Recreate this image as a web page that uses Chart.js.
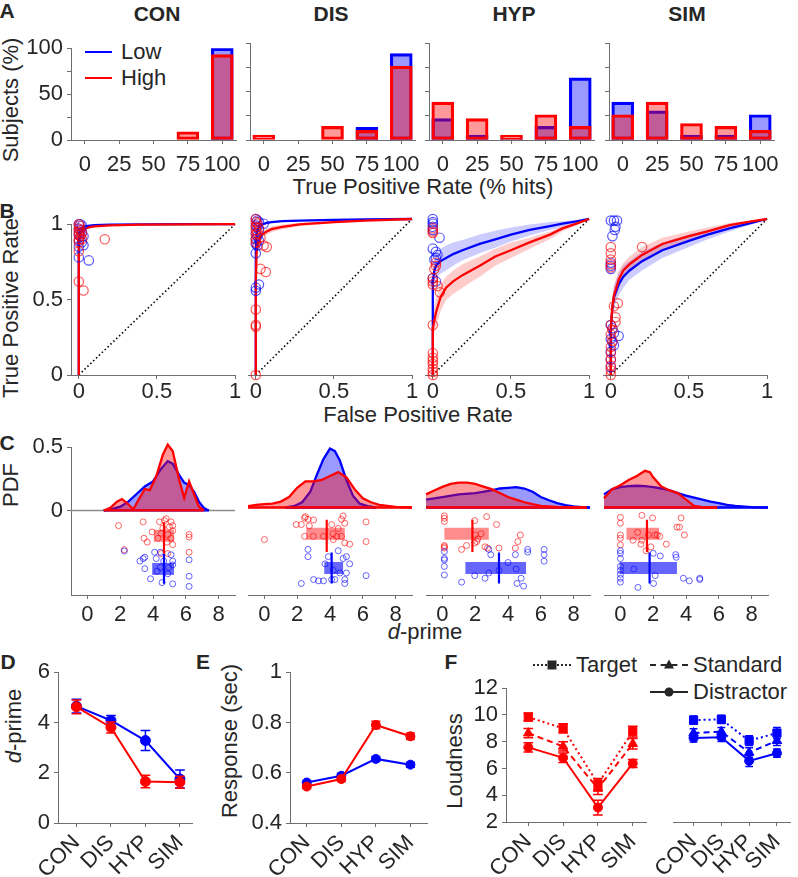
<!DOCTYPE html>
<html lang="en">
<head>
<meta charset="UTF-8">
<title>Detection performance</title>
<script src="https://cdn.jsdelivr.net/npm/chart.js"></script>
<style>
    body { margin: 0; background: #fff; }
    #fig { position: relative; width: 798px; height: 877px; overflow: hidden; font-family: "Liberation Sans", Arial, sans-serif; color: #262626; }
    #fig canvas { position: absolute; }
    .t { position: absolute; white-space: nowrap; font-size: 22px; line-height: 1; transform: translate(-50%, -50%); }
    .l { transform: translate(0, -50%); }
    .b { font-weight: bold; font-size: 21px; }
    .r { transform: translate(-50%, -50%) rotate(-90deg); }
    .key { position: absolute; width: 38px; height: 0; border-top: 2px solid #262626; transform: translateY(-1px); }
    .mk { position: absolute; background: #262626; transform: translate(-50%, -50%); }
</style>
</head>
<body>
<div id="fig">
    <div class="t b" style="left:7px;top:10px">A</div>
    <div class="t b" style="left:157px;top:13px">CON</div>
    <div class="t b" style="left:331px;top:13px">DIS</div>
    <div class="t b" style="left:514px;top:13px">HYP</div>
    <div class="t b" style="left:687px;top:13px">SIM</div>
    <div class="t r" style="left:11px;top:100px">Subjects (%)</div>
    <div class="key" style="left:85px;top:52px;border-color:#0000ff;width:27px"></div>
    <div class="t l" style="left:121px;top:52px">Low</div>
    <div class="key" style="left:85px;top:78px;border-color:#ff0000;width:27px"></div>
    <div class="t l" style="left:121px;top:78px">High</div>
    <div class="t" style="left:423px;top:187px">True Positive Rate (% hits)</div>

    <div class="t b" style="left:7px;top:210px">B</div>
    <div class="t r" style="left:11px;top:308px">True Positive Rate</div>
    <div class="t" style="left:418px;top:415px">False Positive Rate</div>

    <div class="t b" style="left:7px;top:442px">C</div>
    <div class="t r" style="left:11px;top:485px">PDF</div>
    <div class="t" style="left:425px;top:632px"><i>d</i>-prime</div>

    <div class="t b" style="left:8px;top:661px">D</div>
    <div class="t r" style="left:14px;top:726px"><i>d</i>-prime</div>
    <div class="t b" style="left:203px;top:661px">E</div>
    <div class="t r" style="left:230px;top:741px">Response (sec)</div>
    <div class="t b" style="left:451px;top:661px">F</div>
    <div class="t r" style="left:455px;top:761px">Loudness</div>

    <div class="key" style="left:533px;top:665px;border-top-style:dotted"></div>
    <div class="mk" style="left:552px;top:665px;width:9px;height:9px"></div>
    <div class="t l" style="left:576px;top:665px">Target</div>
    <div class="key" style="left:650px;top:665px;border-top-style:dashed"></div>
    <div class="mk" style="left:669px;top:664px;width:0;height:0;background:none;border-left:5px solid transparent;border-right:5px solid transparent;border-bottom:9px solid #262626"></div>
    <div class="t l" style="left:693px;top:665px">Standard</div>
    <div class="key" style="left:650px;top:692px"></div>
    <div class="mk" style="left:669px;top:692px;width:9px;height:9px;border-radius:50%"></div>
    <div class="t l" style="left:693px;top:692px">Distractor</div>
</div>

<script>
    const groups = ['CON', 'DIS', 'HYP', 'SIM'];

    // A: share of subjects per hit-rate bin
    const rateBins = [0, 25, 50, 75, 100];
    const histLow = [[0, 0, 0, 0, 100], [0, 0, 0, 13, 89], [22, 5, 1, 14, 64], [39, 30, 5, 5, 26]];
    const histHigh = [[0, 0, 0, 9, 93], [5, 0, 14, 10, 76], [39, 22, 5, 26, 14], [26, 39, 17, 14, 10]];

    // B: ROC fits and subject points
    const rocFpr = [
        [0, 0, 0.005, 0.01, 0.02, 0.04, 0.07, 0.1, 0.2, 0.4, 0.7, 1],
        [0, 0, 0.005, 0.01, 0.02, 0.04, 0.07, 0.1, 0.17, 0.28, 0.5, 0.7, 1],
        [0, 0, 0.01, 0.02, 0.05, 0.085, 0.13, 0.19, 0.3, 0.4, 0.5, 0.62, 0.75, 0.83, 0.92, 1],
        [0, 0, 0.01, 0.02, 0.05, 0.08, 0.12, 0.2, 0.33, 0.5, 0.62, 0.76, 0.9, 1]
    ];
    const rocLow = [
        [0, 0.9, 0.95, 0.965, 0.975, 0.985, 0.99, 0.993, 0.997, 0.999, 1, 1],
        [0, 0.8, 0.9, 0.93, 0.95, 0.965, 0.975, 0.98, 0.986, 0.99, 0.995, 0.998, 1],
        [0, 0.6, 0.67, 0.7, 0.73, 0.75, 0.775, 0.8, 0.84, 0.87, 0.9, 0.93, 0.955, 0.97, 0.985, 1],
        [0, 0.3, 0.43, 0.5, 0.58, 0.63, 0.67, 0.73, 0.8, 0.86, 0.9, 0.94, 0.975, 1]
    ];
    const rocLowLo = [
        [0, 0.88, 0.94, 0.955, 0.968, 0.98, 0.986, 0.99, 0.995, 0.998, 0.999, 1],
        [0, 0.77, 0.88, 0.915, 0.94, 0.957, 0.968, 0.974, 0.981, 0.986, 0.993, 0.997, 1],
        [0, 0.5, 0.6, 0.62, 0.65, 0.67, 0.7, 0.735, 0.78, 0.815, 0.855, 0.895, 0.93, 0.95, 0.975, 1],
        [0, 0.24, 0.36, 0.43, 0.51, 0.56, 0.61, 0.67, 0.75, 0.82, 0.87, 0.92, 0.965, 1]
    ];
    const rocLowHi = [
        [0, 0.92, 0.96, 0.973, 0.981, 0.989, 0.993, 0.995, 0.998, 1, 1, 1],
        [0, 0.83, 0.92, 0.945, 0.96, 0.972, 0.981, 0.985, 0.99, 0.993, 0.997, 0.999, 1],
        [0, 0.66, 0.74, 0.78, 0.81, 0.83, 0.85, 0.865, 0.9, 0.925, 0.945, 0.965, 0.98, 0.985, 0.993, 1],
        [0, 0.36, 0.5, 0.57, 0.65, 0.7, 0.73, 0.79, 0.85, 0.9, 0.93, 0.96, 0.985, 1]
    ];
    const rocHigh = [
        [0, 0.85, 0.91, 0.935, 0.955, 0.97, 0.98, 0.985, 0.992, 0.997, 0.999, 1],
        [0, 0.6, 0.78, 0.83, 0.87, 0.9, 0.92, 0.935, 0.95, 0.965, 0.98, 0.99, 1],
        [0, 0.3, 0.35, 0.4, 0.5, 0.56, 0.6, 0.64, 0.7, 0.76, 0.8, 0.85, 0.9, 0.94, 0.97, 1],
        [0, 0.3, 0.44, 0.51, 0.61, 0.67, 0.71, 0.77, 0.84, 0.89, 0.92, 0.96, 0.985, 1]
    ];
    const rocHighLo = [
        [0, 0.83, 0.895, 0.922, 0.945, 0.962, 0.974, 0.98, 0.989, 0.995, 0.998, 1],
        [0, 0.55, 0.74, 0.8, 0.845, 0.88, 0.9, 0.915, 0.935, 0.953, 0.972, 0.985, 1],
        [0, 0.22, 0.27, 0.31, 0.41, 0.48, 0.52, 0.56, 0.63, 0.7, 0.75, 0.81, 0.87, 0.92, 0.96, 1],
        [0, 0.25, 0.38, 0.45, 0.55, 0.62, 0.66, 0.72, 0.8, 0.86, 0.895, 0.945, 0.98, 1]
    ];
    const rocHighHi = [
        [0, 0.87, 0.925, 0.947, 0.964, 0.977, 0.985, 0.989, 0.995, 0.998, 1, 1],
        [0, 0.65, 0.82, 0.86, 0.895, 0.92, 0.94, 0.952, 0.965, 0.976, 0.987, 0.994, 1],
        [0, 0.38, 0.44, 0.49, 0.58, 0.63, 0.67, 0.71, 0.76, 0.81, 0.85, 0.88, 0.92, 0.955, 0.98, 1],
        [0, 0.35, 0.5, 0.57, 0.67, 0.72, 0.76, 0.82, 0.88, 0.92, 0.945, 0.975, 0.99, 1]
    ];
    const subjLow = [
        [[0, 1], [0.01, 1], [0.02, 0.99], [0, 0.97], [0.01, 0.96], [0.02, 0.95], [0, 0.93], [0.01, 0.92], [0.03, 0.92], [0, 0.89], [0.02, 0.88], [0.03, 0.86], [0, 0.85], [0, 0.78], [0.064, 0.76]],
        [[0, 1], [0.01, 0.99], [0.02, 0.98], [0.05, 0.97], [0, 0.96], [0.01, 0.95], [0.02, 0.93], [0, 0.91], [0.01, 0.89], [0, 0.87], [0.02, 0.86], [0, 0.84], [0.01, 0.83], [0, 0.78], [0, 0.56], [0, 0.54], [0.02, 0.58]],
        [[0, 1], [0, 0.98], [0, 0.97], [0, 0.95], [0, 0.93], [0.043, 0.88], [0, 0.81], [0.02, 0.79], [0.03, 0.77], [0.02, 0.75], [0.01, 0.74], [0, 0.62], [0.02, 0.6]],
        [[0, 0.99], [0.02, 0.99], [0.04, 0.99], [0.03, 0.95], [0.025, 0.93], [0.01, 0.89], [0, 0.72], [0, 0.7], [0, 0.68], [0, 0.32], [0.01, 0.3], [0.02, 0.27], [0.05, 0.25], [0, 0.23], [0.01, 0.21], [0.02, 0.19], [0, 0.15], [0, 0.1], [0, 0.05]]
    ];
    const subjHigh = [
        [[0, 1], [0.005, 0.99], [0, 0.97], [0.01, 0.96], [0, 0.95], [0.02, 0.94], [0, 0.93], [0.01, 0.92], [0, 0.9], [0.02, 0.9], [0, 0.88], [0, 0.82], [0, 0.62], [0.03, 0.56], [0.166, 0.9]],
        [[0, 1], [0, 0.98], [0.01, 0.97], [0, 0.95], [0.02, 0.94], [0, 0.93], [0.01, 0.91], [0, 0.9], [0.03, 0.88], [0, 0.87], [0, 0.85], [0.05, 0.83], [0.07, 0.82], [0.03, 0.68], [0.064, 0.66], [0, 0.42], [0, 0.32], [0, 0.31], [0, 0]],
        [[0, 0.94], [0, 0.92], [0, 0.91], [0.02, 0.72], [0.02, 0.7], [0.01, 0.68], [0, 0.62], [0, 0.6], [0, 0.58], [0.03, 0.57], [0.045, 0.53], [0, 0.32], [0, 0.14], [0, 0.11], [0, 0.09], [0, 0.07], [0, 0.04], [0, 0.02], [0, 0]],
        [[0, 0.82], [0, 0.78], [0, 0.74], [0, 0.71], [0, 0.69], [0.2, 0.82], [0.045, 0.46], [0.02, 0.44], [0.03, 0.37], [0.03, 0.34], [0, 0.32], [0.01, 0.29], [0, 0.26], [0.01, 0.22], [0, 0.18], [0, 0.14], [0, 0.1], [0, 0.06], [0, 0.03], [0, 0]]
    ];

    // C: d-prime densities, subject values (with jitter row) and summary boxes
    const pdfLowX = [
        [1.0, 1.5, 2.0, 2.5, 3.0, 3.5, 4.0, 4.5, 4.9, 5.2, 5.6, 5.9, 6.2, 6.5, 6.8, 7.1, 7.4],
        [1.3, 1.8, 2.3, 2.8, 3.2, 3.6, 4.0, 4.3, 4.6, 5.0, 5.4, 5.8, 6.3, 6.8],
        [-1, 0, 1, 2, 3, 3.5, 4, 4.5, 5, 5.5, 6, 6.5, 7, 7.5, 8, 8.5, 9],
        [-1, -0.5, 0, 0.5, 1, 1.5, 2, 2.5, 3, 3.5, 4, 4.5, 5, 5.5, 6, 6.5, 7, 8, 9]
    ];
    const pdfLowY = [
        [0, 0.01, 0.03, 0.07, 0.13, 0.19, 0.23, 0.33, 0.39, 0.37, 0.28, 0.22, 0.2, 0.15, 0.07, 0.02, 0],
        [0, 0.01, 0.04, 0.12, 0.25, 0.37, 0.45, 0.43, 0.36, 0.21, 0.09, 0.03, 0.01, 0],
        [0.06, 0.08, 0.1, 0.11, 0.13, 0.145, 0.15, 0.156, 0.145, 0.12, 0.08, 0.055, 0.033, 0.018, 0.008, 0.003, 0],
        [0.1, 0.14, 0.155, 0.163, 0.166, 0.163, 0.155, 0.145, 0.13, 0.11, 0.09, 0.075, 0.06, 0.045, 0.033, 0.02, 0.012, 0.003, 0]
    ];
    const pdfHighX = [
        [1.0, 1.4, 1.8, 2.1, 2.4, 2.8, 3.1, 3.5, 3.8, 4.2, 4.6, 4.9, 5.2, 5.6, 5.9, 6.2, 6.5, 6.8, 7.1],
        [-1, -0.5, 0, 0.5, 1, 1.5, 2, 2.5, 3, 3.5, 4, 4.5, 5, 5.5, 6, 6.5, 7, 8, 9],
        [-1, -0.5, 0, 0.5, 1, 1.5, 2, 2.5, 3, 3.5, 4, 4.5, 5, 5.5, 6, 7, 8, 8.8],
        [-1, -0.5, 0, 0.5, 1, 1.5, 1.8, 2, 2.5, 3, 3.5, 4, 4.5, 5, 5.5, 5.9]
    ];
    const pdfHighY = [
        [0, 0.02, 0.07, 0.09, 0.06, 0.01, 0.08, 0.17, 0.16, 0.27, 0.44, 0.52, 0.47, 0.24, 0.1, 0.23, 0.13, 0.03, 0],
        [0.01, 0.02, 0.025, 0.03, 0.045, 0.08, 0.15, 0.2, 0.2, 0.21, 0.24, 0.27, 0.23, 0.14, 0.07, 0.04, 0.02, 0.005, 0],
        [0.1, 0.13, 0.157, 0.18, 0.19, 0.19, 0.18, 0.16, 0.14, 0.11, 0.08, 0.06, 0.04, 0.025, 0.013, 0.005, 0, 0],
        [0.07, 0.14, 0.17, 0.21, 0.24, 0.28, 0.27, 0.23, 0.16, 0.13, 0.11, 0.06, 0.012, 0.002, 0, 0]
    ];
    const dotsLow = [
        [[2.25, -0.32], [3.2, -0.4], [3.4, -0.38], [3.5, -0.37], [3.5, -0.46], [4.1, -0.33], [4.2, -0.38], [4.45, -0.33], [4.65, -0.4], [5.1, -0.35], [5.2, -0.4], [5.2, -0.43], [6.2, -0.39], [6.2, -0.52], [6.2, -0.6], [3.85, -0.54], [4.55, -0.57], [5.2, -0.58], [4.9, -0.5], [4.45, -0.45], [4.95, -0.45], [4.25, -0.48]],
        [[2.66, -0.32], [2.66, -0.375], [3.7, -0.43], [3.9, -0.375], [4.5, -0.33], [4.8, -0.39], [5.2, -0.43], [4.2, -0.48], [4.6, -0.5], [5.0, -0.5], [2.25, -0.58], [3.0, -0.55], [3.3, -0.56], [3.6, -0.56], [4.3, -0.55], [4.9, -0.55], [4.9, -0.58], [6.2, -0.52], [4.1, -0.55], [5.0, -0.375]],
        [[0.12, -0.336], [0.12, -0.388], [0.12, -0.4], [0.12, -0.45], [0.12, -0.515], [2.83, -0.32], [2.95, -0.36], [4.0, -0.42], [4.45, -0.36], [4.5, -0.47], [5.2, -0.32], [5.2, -0.34], [6.2, -0.32], [6.2, -0.36], [6.2, -0.41], [1.17, -0.57], [1.97, -0.52], [2.6, -0.54], [2.83, -0.5], [4.55, -0.58], [4.8, -0.54], [4.95, -0.6], [3.45, -0.48]],
        [[0, -0.33], [0, -0.35], [0, -0.39], [0, -0.45], [0, -0.48], [0, -0.51], [0, -0.54], [0, -0.57], [2.0, -0.35], [2.43, -0.37], [3.37, -0.36], [3.4, -0.38], [0.82, -0.47], [2.12, -0.52], [2.02, -0.58], [1.07, -0.61], [3.84, -0.54], [4.2, -0.56], [4.84, -0.54], [4.84, -0.55]]
    ];
    const dotsHigh = [
        [[1.9, -0.12], [3.4, -0.09], [4.4, -0.09], [4.8, -0.065], [5.1, -0.09], [5.2, -0.12], [5.2, -0.16], [3.95, -0.17], [4.5, -0.18], [4.9, -0.19], [3.45, -0.22], [3.65, -0.25], [4.3, -0.22], [5.1, -0.22], [5.2, -0.27], [4.5, -0.34], [4.9, -0.34], [6.2, -0.19], [6.2, -0.21], [6.2, -0.33], [2.25, -0.31], [4.7, -0.08], [5.0, -0.13], [4.6, -0.14], [4.85, -0.25]],
        [[0, -0.245], [1.94, -0.13], [2.25, -0.13], [2.5, -0.07], [2.74, -0.14], [2.98, -0.22], [2.45, -0.08], [2.66, -0.09], [3.0, -0.095], [4.1, -0.13], [4.5, -0.16], [4.7, -0.09], [4.8, -0.065], [4.9, -0.12], [4.2, -0.2], [4.4, -0.22], [4.7, -0.22], [4.9, -0.27], [5.2, -0.28], [4.2, -0.245], [3.6, -0.22], [2.45, -0.22], [6.2, -0.11], [6.2, -0.26]],
        [[0.12, -0.064], [0.12, -0.082], [0.12, -0.107], [0.12, -0.29], [0.12, -0.3], [0.12, -0.31], [1.97, -0.1], [2.7, -0.07], [3.3, -0.13], [2.36, -0.2], [2.0, -0.21], [2.15, -0.24], [1.97, -0.27], [1.47, -0.29], [1.17, -0.32], [2.6, -0.3], [2.75, -0.31], [3.45, -0.31], [4.45, -0.31], [4.6, -0.26], [4.75, -0.21], [2.1, -0.26]],
        [[0, -0.075], [0, -0.12], [0, -0.21], [0, -0.235], [0, -0.285], [1.31, -0.06], [1.96, -0.08], [3.7, -0.08], [3.45, -0.15], [3.6, -0.15], [3.9, -0.21], [1.05, -0.19], [0.77, -0.25], [1.31, -0.25], [2.1, -0.21], [2.25, -0.21], [2.4, -0.22], [1.7, -0.21], [1.25, -0.28], [1.86, -0.3], [2.8, -0.28], [1.56, -0.33]]
    ];
    const boxLow = [[3.95, 5.28], [3.65, 4.8], [1.4, 5.1], [-0.05, 3.45]];
    const boxHigh = [[4.05, 5.28], [2.55, 4.9], [0.12, 2.83], [0.37, 2.36]];
    const meanLow = [4.67, 4.1, 3.45, 1.78];
    const meanHigh = [4.67, 3.8, 1.83, 1.62];

    // D, E: group means with error bars
    const dprimeLow = [4.65, 4.08, 3.28, 1.75];
    const dprimeLowErr = [0.27, 0.2, 0.4, 0.36];
    const dprimeHigh = [4.62, 3.8, 1.65, 1.62];
    const dprimeHighErr = [0.27, 0.22, 0.25, 0.24];
    const rtLow = [0.561, 0.588, 0.655, 0.632];
    const rtLowErr = [0.007, 0.01, 0.01, 0.01];
    const rtHigh = [0.545, 0.575, 0.79, 0.745];
    const rtHighErr = [0.008, 0.01, 0.015, 0.013];

    // F: loudness ratings
    const targetHigh = [9.84, 9.0, 4.85, 8.76];
    const targetHighErr = [0.3, 0.35, 0.4, 0.4];
    const standardHigh = [8.64, 7.65, 4.5, 7.85];
    const standardHighErr = [0.35, 0.35, 0.45, 0.4];
    const distractorHigh = [7.58, 6.8, 3.08, 6.38];
    const distractorHighErr = [0.35, 0.35, 0.55, 0.3];
    const targetLow = [9.33, 9.38, 7.85, 8.4];
    const targetLowErr = [0.3, 0.3, 0.35, 0.4];
    const standardLow = [8.4, 8.5, 7.0, 7.85];
    const standardLowErr = [0.3, 0.3, 0.35, 0.35];
    const distractorLow = [8.05, 8.1, 6.4, 6.95];
    const distractorLowErr = [0.3, 0.3, 0.4, 0.3];

    const BLUE = '#0000ff', RED = '#ff0000', AXIS = '#6e6e6e';
    const fig = document.getElementById('fig');

    Chart.defaults.font.family = '"Liberation Sans", Arial, sans-serif';
    Chart.defaults.font.size = 22;
    Chart.defaults.color = '#262626';
    Chart.defaults.animation = false;
    Chart.defaults.plugins.legend.display = false;
    Chart.defaults.plugins.tooltip.enabled = false;

    function axis(min, max, ticks, opt) {
        opt = opt || {};
        const border = opt.border !== false;
        return {
            type: 'linear', min: min, max: max, offset: false,
            afterBuildTicks: s => { s.ticks = ticks.map(v => ({ value: v })); },
            border: { display: border, color: AXIS, width: 1 },
            grid: { drawOnChartArea: false, drawTicks: border, tickLength: 4, color: AXIS, offset: false },
            ticks: {
                display: opt.labels !== false, padding: opt.pad ?? 4, autoSkip: false,
                maxRotation: opt.rot || 0, minRotation: opt.rot || 0,
                callback: opt.fmt || (v => String(v))
            }
        };
    }

    // later entries are drawn on top
    function layered(list) {
        list.forEach((d, i) => { d.order = list.length - i; });
        return list;
    }

    function place(L, T, W, H, yw, xh, cfg, padR = 16, padT = 12) {
        const c = document.createElement('canvas');
        c.width = yw + W + padR;
        c.height = padT + H + xh;
        c.style.left = (L - yw) + 'px';
        c.style.top = (T - padT) + 'px';
        fig.appendChild(c);
        const o = cfg.options;
        o.responsive = false;
        o.devicePixelRatio = 1;
        o.layout = { padding: { top: padT, right: padR, left: 0, bottom: 0 } };
        o.scales.x.afterFit = s => { s.height = xh; };
        o.scales.y.afterFit = s => { s.width = yw; };
        new Chart(c, cfg);
    }

    const pts = (xs, ys) => xs.map((x, i) => ({ x: x, y: ys[i] }));
    const pairs = arr => arr.map(p => ({ x: p[0], y: p[1] }));
    const line = (data, col, w, extra) => Object.assign({ data: data, showLine: true, pointRadius: 0, borderColor: col, borderWidth: w, clip: false }, extra || {});

    // ---- A ----
    const aLeft = [71, 250, 429, 609];
    groups.forEach((g, k) => {
        const bar = (vals, col, fill) => ({
            data: rateBins.map((b, i) => ({ x: b, y: vals[i] || null })),
            backgroundColor: fill, borderColor: col, borderWidth: 2.5,
            borderSkipped: false, barThickness: 22, grouped: false
        });
        place(aLeft[k], 43, 165, 97, k ? 10 : 62, 36, {
            type: 'bar',
            data: { datasets: layered([bar(histLow[k], BLUE, 'rgba(0,0,255,0.4)'), bar(histHigh[k], RED, 'rgba(255,0,0,0.4)')]) },
            options: {
                scales: {
                    x: axis(-10, 110, rateBins, { pad: 8 }),
                    y: axis(0, 100, [0, 25, 50, 75, 100], { labels: k === 0, fmt: v => (v % 50 ? '' : String(v)) })
                }
            }
        });
    });

    // ---- B ----
    const bLeft = [71, 248, 425, 603];
    groups.forEach((g, k) => {
        const f = rocFpr[k];
        const band = (hi, lo, fill) => [
            line(pts(f, hi), 'rgba(0,0,0,0)', 0, { clip: true }),
            line(pts(f, lo), 'rgba(0,0,0,0)', 0, { clip: true, fill: '-1', backgroundColor: fill })
        ];
        const circles = (list, col) => ({ data: pairs(list), pointRadius: 4.7, pointBorderWidth: 1.2, pointBorderColor: col, pointBackgroundColor: 'rgba(0,0,0,0)', clip: false });
        const sets = [].concat(
            band(rocLowHi[k], rocLowLo[k], 'rgba(0,0,255,0.2)'),
            band(rocHighHi[k], rocHighLo[k], 'rgba(255,0,0,0.2)'),
            [line([{ x: 0, y: 0 }, { x: 1, y: 1 }], '#000', 1.6, { borderDash: [1.5, 2.5] }),
             line(pts(f, rocLow[k]), BLUE, 2.3),
             line(pts(f, rocHigh[k]), RED, 2.3),
             circles(subjLow[k], 'rgba(0,0,255,0.65)'),
             circles(subjHigh[k], 'rgba(255,0,0,0.65)')]
        );
        place(bLeft[k], 219, 164, 156, k ? 10 : 62, 30, {
            type: 'scatter',
            data: { datasets: layered(sets) },
            options: {
                scales: {
                    x: axis(-0.05, 1, [0, 0.5, 1], { pad: 0 }),
                    y: k ? axis(0, 1, [0, 0.5, 1], { border: false, labels: false }) : axis(0, 1, [0, 0.5, 1])
                }
            }
        });
    });

    // ---- C ----
    const cLeft = [71, 248, 426, 604];
    const cMin = -1, cMax = 9;
    groups.forEach((g, k) => {
        const lx = pdfLowX[k], hx = pdfHighX[k];
        const dots = (list, col) => ({ data: pairs(list), pointRadius: 3, pointBorderWidth: 1, pointBorderColor: col, pointBackgroundColor: 'rgba(0,0,0,0)', clip: false });
        const sets = [
            line([{ x: cMin, y: 0 }, { x: cMax, y: 0 }], '#8c8c8c', 1.5),
            line(pts(lx, pdfLowY[k]), BLUE, 2.3, { fill: 'origin', backgroundColor: 'rgba(0,0,255,0.4)' }),
            line([{ x: lx[0], y: 0 }, { x: lx[lx.length - 1], y: 0 }], BLUE, 2.3),
            line(pts(hx, pdfHighY[k]), RED, 2.3, { fill: 'origin', backgroundColor: 'rgba(255,0,0,0.4)' }),
            line([{ x: hx[0], y: 0 }, { x: hx[hx.length - 1], y: 0 }], RED, 2.3),
            line([{ x: boxHigh[k][0], y: -0.2 }, { x: boxHigh[k][1], y: -0.2 }], 'rgba(255,0,0,0.45)', 12, { borderCapStyle: 'butt' }),
            line([{ x: boxLow[k][0], y: -0.462 }, { x: boxLow[k][1], y: -0.462 }], 'rgba(0,0,255,0.6)', 12, { borderCapStyle: 'butt' }),
            dots(dotsHigh[k], 'rgba(255,0,0,0.6)'),
            dots(dotsLow[k], 'rgba(0,0,255,0.6)'),
            line([{ x: meanHigh[k], y: -0.094 }, { x: meanHigh[k], y: -0.34 }], RED, 2.2),
            line([{ x: meanLow[k], y: -0.344 }, { x: meanLow[k], y: -0.58 }], BLUE, 2.2)
        ];
        place(cLeft[k], 442, 164, 153, k ? 10 : 62, 34, {
            type: 'scatter',
            data: { datasets: layered(sets) },
            options: {
                scales: {
                    x: axis(cMin, cMax, [0, 2, 4, 6, 8], { pad: 3 }),
                    y: k ? axis(-0.668, 0.5, [0, 0.5], { border: false, labels: false }) : axis(-0.668, 0.5, [0, 0.5])
                }
            }
        });
    });

    // ---- D, E, F ----
    function errBars(vals, errs, col, cap) {
        const out = [];
        vals.forEach((v, i) => {
            const x = i + 1, lo = v - errs[i], hi = v + errs[i];
            out.push({ x: x, y: lo }, { x: x, y: hi }, { x: x, y: null },
                { x: x - cap, y: lo }, { x: x + cap, y: lo }, { x: x, y: null },
                { x: x - cap, y: hi }, { x: x + cap, y: hi }, { x: x, y: null });
        });
        return line(out, col, 1.5, { spanGaps: false });
    }
    function series(vals, col, style, radius, dash) {
        return line(vals.map((v, i) => ({ x: i + 1, y: v })), col, 2, {
            borderDash: dash || [], pointRadius: radius, pointStyle: style,
            pointBackgroundColor: col, pointBorderColor: col, pointBorderWidth: 1
        });
    }
    const groupTicks = [1, 2, 3, 4];
    const groupAxis = (min, max, opt) => axis(min, max, groupTicks, Object.assign({ rot: 45, pad: 3, fmt: v => groups[v - 1] }, opt || {}));

    place(58, 667, 134, 156, 50, 56, {
        type: 'scatter',
        data: { datasets: layered([
            errBars(dprimeLow, dprimeLowErr, BLUE, 0.14), series(dprimeLow, BLUE, 'circle', 5),
            errBars(dprimeHigh, dprimeHighErr, RED, 0.14), series(dprimeHigh, RED, 'circle', 5)
        ]) },
        options: { scales: { x: groupAxis(0.465, 4.35), y: axis(0, 6, [0, 2, 4, 6]) } }
    });

    place(290, 667, 137, 156, 50, 56, {
        type: 'scatter',
        data: { datasets: layered([
            errBars(rtLow, rtLowErr, BLUE, 0.13), series(rtLow, BLUE, 'circle', 4.5),
            errBars(rtHigh, rtHighErr, RED, 0.13), series(rtHigh, RED, 'circle', 4.5)
        ]) },
        options: { scales: { x: groupAxis(0.515, 4.48), y: axis(0.4, 1, [0.4, 0.6, 0.8, 1]) } }
    });

    function loudSets(t, te, s, se, d, de, col) {
        return layered([
            errBars(d, de, col, 0.14), series(d, col, 'circle', 4.5),
            errBars(s, se, col, 0.14), series(s, col, 'triangle', 5.5, [6, 4]),
            errBars(t, te, col, 0.14), series(t, col, 'rect', 5.8, [2, 3])
        ]);
    }
    place(506, 683, 140, 139, 40, 56, {
        type: 'scatter',
        data: { datasets: loudSets(targetHigh, targetHighErr, standardHigh, standardHighErr, distractorHigh, distractorHighErr, RED) },
        options: { scales: { x: groupAxis(0.36, 4.38), y: axis(2, 12, [2, 4, 6, 8, 10, 12]) } }
    });
    place(655, 683, 143, 139, 0, 56, {
        type: 'scatter',
        data: { datasets: loudSets(targetLow, targetLowErr, standardLow, standardLowErr, distractorLow, distractorLowErr, BLUE) },
        options: { scales: { x: groupAxis(0.29, 4.48), y: Object.assign(axis(2, 12, [2, 4, 6, 8, 10, 12]), { display: false }) } }
    }, 0, 12);
</script>
</body>
</html>
